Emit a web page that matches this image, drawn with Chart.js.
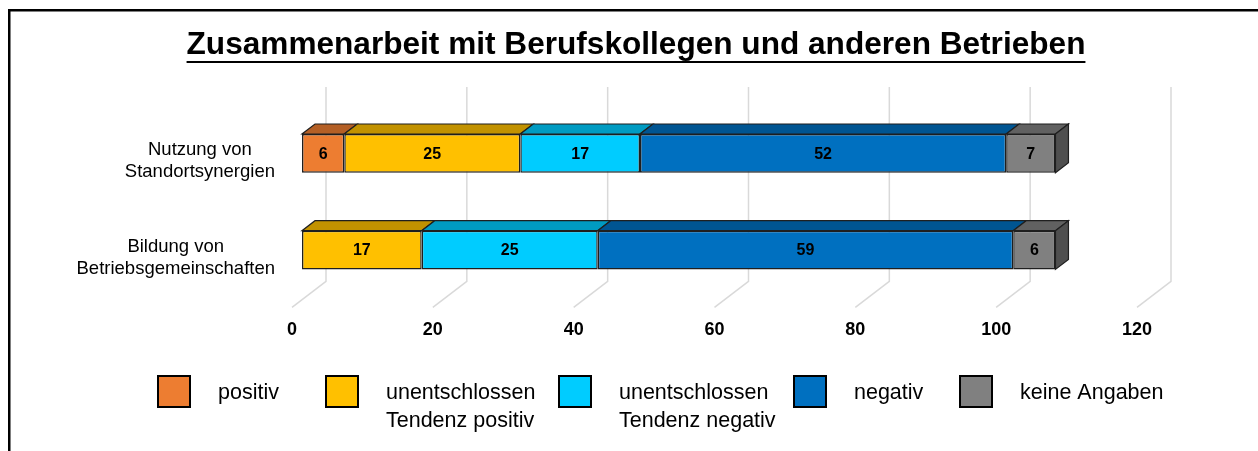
<!DOCTYPE html>
<html>
<head>
<meta charset="utf-8">
<title>Zusammenarbeit mit Berufskollegen und anderen Betrieben</title>
<script src="https://cdn.jsdelivr.net/npm/chart.js@4.4.1/dist/chart.umd.min.js"></script>
<style>
  html, body { margin: 0; padding: 0; background: #fff; }
  #wrap { width: 1258px; height: 451px; }
</style>
</head>
<body>
<div id="wrap"><canvas id="chart" width="1258" height="451"></canvas></div>
<script>
const chartTitle = 'Zusammenarbeit mit Berufskollegen und anderen Betrieben';
const categories = [['Nutzung von', 'Standortsynergien'], ['Bildung von', 'Betriebsgemeinschaften']];
const seriesNames = [['positiv'], ['unentschlossen', 'Tendenz positiv'], ['unentschlossen', 'Tendenz negativ'], ['negativ'], ['keine Angaben']];
const positiv = [6, 0];
const tendenzPositiv = [25, 17];
const tendenzNegativ = [17, 25];
const negativ = [52, 59];
const keineAngaben = [7, 6];
const xTicks = [0, 20, 40, 60, 80, 100, 120];

const seriesValues = [positiv, tendenzPositiv, tendenzNegativ, negativ, keineAngaben];
const seriesColors = ['#ED7D31', '#FFC000', '#00CCFF', '#0070C0', '#808080'];
const FONT = '"Liberation Sans", Arial, Helvetica, sans-serif';
const OUTLINE = '#1f1f1f';
const DEPTH_X = 13, DEPTH_Y = -10;

// darken a #rrggbb colour by factor f
function shade(hex, f) {
  const n = parseInt(hex.slice(1), 16);
  const r = Math.round(((n >> 16) & 255) * f);
  const g = Math.round(((n >> 8) & 255) * f);
  const b = Math.round((n & 255) * f);
  return `rgb(${r},${g},${b})`;
}

function poly(ctx, pts, fill) {
  ctx.beginPath();
  ctx.moveTo(pts[0][0], pts[0][1]);
  for (let i = 1; i < pts.length; i++) ctx.lineTo(pts[i][0], pts[i][1]);
  ctx.closePath();
  ctx.fillStyle = fill;
  ctx.fill();
  ctx.stroke();
}

// pseudo-3D look: back wall grid, bar top/side faces, labels, title, legend
const depthPlugin = {
  id: 'depth3d',
  beforeDraw(chart) {
    const ctx = chart.ctx;
    ctx.save();
    ctx.fillStyle = '#fff';
    ctx.fillRect(0, 0, chart.width, chart.height);
    ctx.strokeStyle = '#000';
    ctx.lineWidth = 2.5;
    ctx.beginPath();
    ctx.moveTo(9.25, chart.height);
    ctx.lineTo(9.25, 10.25);
    ctx.lineTo(chart.width, 10.25);
    ctx.stroke();
    ctx.restore();
  },
  beforeDatasetsDraw(chart) {
    const ctx = chart.ctx, xs = chart.scales.x, area = chart.chartArea;
    ctx.save();
    ctx.strokeStyle = '#d9d9d9';
    ctx.lineWidth = 1.5;
    xs.ticks.forEach(t => {
      const p = xs.getPixelForValue(t.value);
      ctx.beginPath();
      ctx.moveTo(p + 24, area.top - 18);
      ctx.lineTo(p + 24, area.bottom - 17);
      ctx.lineTo(p - 10, area.bottom + 9);
      ctx.stroke();
    });
    ctx.restore();
  },
  afterDatasetsDraw(chart) {
    const ctx = chart.ctx;
    ctx.save();
    ctx.strokeStyle = OUTLINE;
    ctx.lineWidth = 1.2;
    const metas = chart.data.datasets.map((d, i) => chart.getDatasetMeta(i));
    categories.forEach((c, row) => {
      let last = -1;
      seriesValues.forEach((vals, s) => { if (vals[row] > 0) last = s; });
      seriesValues.forEach((vals, s) => {
        if (!(vals[row] > 0)) return;
        const bar = metas[s].data[row];
        const x0 = Math.min(bar.base, bar.x), x1 = Math.max(bar.base, bar.x);
        const top = bar.y - bar.height / 2, bottom = bar.y + bar.height / 2;
        poly(ctx, [[x0, top], [x1, top], [x1 + DEPTH_X, top + DEPTH_Y], [x0 + DEPTH_X, top + DEPTH_Y]], shade(seriesColors[s], 0.76));
        if (s === last) {
          poly(ctx, [[x1, top], [x1 + DEPTH_X, top + DEPTH_Y], [x1 + DEPTH_X, bottom + DEPTH_Y], [x1, bottom]], shade(seriesColors[s], 0.62));
        }
        ctx.fillStyle = '#000';
        ctx.font = `bold 16px ${FONT}`;
        ctx.textAlign = 'center';
        ctx.textBaseline = 'middle';
        ctx.fillText(String(vals[row]), (x0 + x1) / 2, bar.y + 1);
      });
    });
    ctx.restore();
  },
  afterDraw(chart) {
    const ctx = chart.ctx, ys = chart.scales.y, area = chart.chartArea;
    ctx.save();
    ctx.fillStyle = '#000';
    ctx.strokeStyle = '#000';

    // title with underline
    ctx.font = `bold 31.6px ${FONT}`;
    ctx.textAlign = 'center';
    ctx.textBaseline = 'middle';
    const tx = 636, ty = 45;
    ctx.fillText(chartTitle, tx, ty);
    const tw = ctx.measureText(chartTitle).width;
    ctx.lineWidth = 2;
    ctx.beginPath();
    ctx.moveTo(tx - tw / 2, 62);
    ctx.lineTo(tx + tw / 2, 62);
    ctx.stroke();

    // category labels: block right-aligned, lines centred inside it
    ctx.font = `18.5px ${FONT}`;
    categories.forEach((lines, i) => {
      const yc = ys.getPixelForValue(i) + 8;
      const bw = Math.max(...lines.map(l => ctx.measureText(l).width));
      const cx = area.left - 27 - bw / 2;
      lines.forEach((l, k) => ctx.fillText(l, cx, yc + (k - (lines.length - 1) / 2) * 22));
    });

    // legend
    const legendX = [158, 326, 559, 794, 960];
    ctx.font = `21.5px ${FONT}`;
    ctx.textAlign = 'left';
    seriesNames.forEach((lines, s) => {
      const x = legendX[s];
      ctx.fillStyle = seriesColors[s];
      ctx.fillRect(x, 376, 32, 31);
      ctx.lineWidth = 2;
      ctx.strokeStyle = '#000';
      ctx.strokeRect(x, 376, 32, 31);
      ctx.fillStyle = '#000';
      lines.forEach((l, k) => ctx.fillText(l, x + 60, 393 + k * 28));
    });
    ctx.restore();
  }
};

new Chart(document.getElementById('chart'), {
  type: 'bar',
  data: {
    labels: categories.map(c => c.join(' ')),
    datasets: seriesValues.map((vals, s) => ({
      label: seriesNames[s].join(' '),
      data: vals,
      backgroundColor: seriesColors[s],
      borderColor: OUTLINE,
      borderWidth: 1.5,
      borderSkipped: false,
      inflateAmount: 0,
      barPercentage: 0.4,
      categoryPercentage: 1
    }))
  },
  options: {
    indexAxis: 'y',
    responsive: false,
    animation: false,
    layout: { padding: { left: 302, right: 111, top: 105, bottom: 89 } },
    scales: {
      x: {
        stacked: true,
        min: 0,
        max: 120,
        afterBuildTicks: axis => { axis.ticks = xTicks.map(v => ({ value: v })); },
        ticks: {
          padding: 21,
          labelOffset: -10,
          color: '#000',
          font: { family: FONT, size: 18, weight: 'bold' }
        },
        grid: { display: false, drawTicks: false },
        border: { display: false }
      },
      y: { stacked: true, display: false }
    },
    plugins: {
      legend: { display: false },
      title: { display: false },
      tooltip: { enabled: false }
    }
  },
  plugins: [depthPlugin]
});
</script>
</body>
</html>
